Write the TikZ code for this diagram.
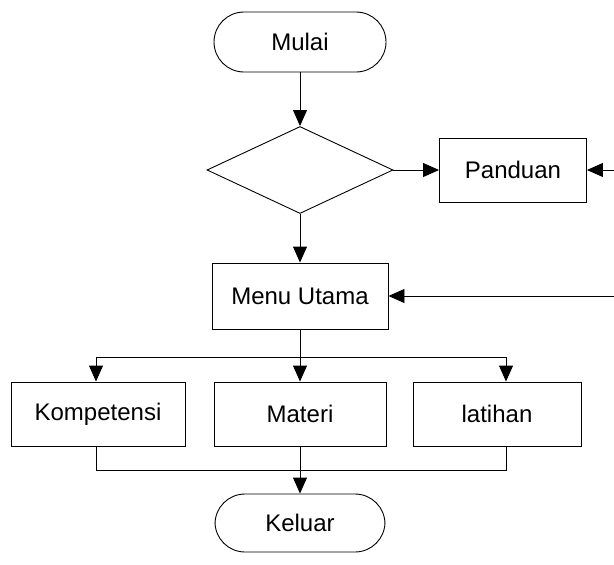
\documentclass[tikz,border=0pt]{standalone}
\usepackage{fontspec}
\setmainfont{Liberation Sans}
\usetikzlibrary{shapes.geometric,arrows.meta}
\begin{document}
\begin{tikzpicture}[x=1pt, y=-1pt, line width=0.9pt,
    every node/.style={draw, inner sep=0pt, font=\fontsize{24}{28}\selectfont},
    terminal/.style={rectangle, rounded corners=30pt, minimum width=172pt, minimum height=60pt},
    process/.style={rectangle, minimum width=174pt, minimum height=64pt},
    decision/.style={diamond, minimum width=186pt, minimum height=87pt},
    arr/.style={-{Triangle[length=16pt, width=14pt]}}]
    \useasboundingbox (0,0) rectangle (614,565);
    % start and first choice
    \node[terminal] (mulai) at (300,42) {Mulai};
    \node[decision] (pilih) at (300,170) {};
    \node[process, minimum width=147pt] (panduan) at (513,170) {Panduan};
    \node[process, minimum width=176pt, minimum height=66pt] (menu) at (300,296) {Menu Utama};
    % menu items
    \node[process] (kompetensi) at (98,414) {Kompetensi};
    \node[process, minimum width=172pt] (materi) at (300,414) {Materi};
    \node[process, minimum width=168pt] (latihan) at (497,414) {latihan};
    \node[terminal, minimum width=170pt, minimum height=58pt] (keluar) at (300,523) {Keluar};
    % free ends and branch points
    \coordinate (kePanduan) at (614,170);
    \coordinate (keMenu) at (614,296);
    \coordinate (cabang) at (300,357);
    \coordinate (gabung) at (300,470);
    \draw[arr] (mulai) -- (pilih);
    \draw[arr] (pilih.east) -- (panduan.west);
    \draw[arr] (kePanduan) -- (panduan.east);
    \draw[arr] (pilih.south) -- (menu.north);
    \draw[arr] (keMenu) -- (menu.east);
    \draw (menu.south) -- (cabang);
    \draw[arr] (cabang) -| ([xshift=-2pt]kompetensi.north);
    \draw[arr] (cabang) -- (materi.north);
    \draw[arr] (cabang) -| ([xshift=9pt]latihan.north);
    \draw (kompetensi.south) ++(-2pt,0) |- (gabung);
    \draw (latihan.south) ++(9pt,0) |- (gabung);
    \draw[arr] (materi.south) -- (keluar.north);
\end{tikzpicture}
\end{document}
